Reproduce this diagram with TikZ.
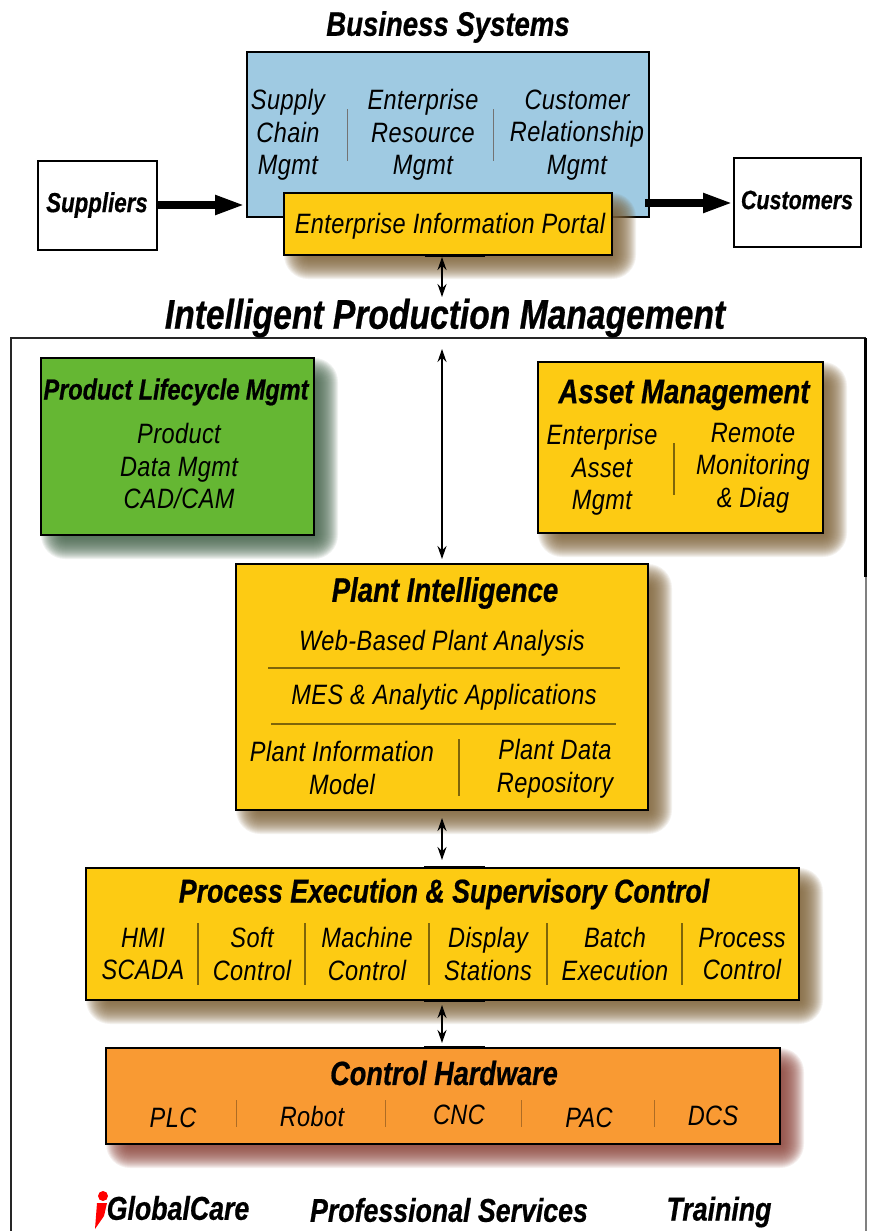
\documentclass[tikz,border=0pt]{standalone}
\usepackage{fontspec}
\usetikzlibrary{arrows.meta,backgrounds}
\newfontfamily\itemfont{Liberation Sans}[UprightFont=* Italic,FakeStretch=0.84,LetterSpace=1.5]
\newfontfamily\headfont{Liberation Sans}[UprightFont=* Bold Italic,FakeStretch=0.81,FakeBold=0.6]
\definecolor{gold}{HTML}{FDCB13}
\definecolor{sky}{HTML}{9FCAE2}
\definecolor{leaf}{HTML}{65B733}
\definecolor{tangerine}{HTML}{F99A33}
\definecolor{goldshade}{HTML}{7E6238}
\definecolor{leafshade}{HTML}{44634A}
\definecolor{orangeshade}{HTML}{8A4238}
\pgfdeclarelayer{shadowlayer}
\pgfdeclarelayer{backlayer}
\pgfsetlayers{backlayer,shadowlayer,main}
\tikzstyle{box}=[shape=rectangle, draw=black, line width=1.6pt, inner sep=0pt, outer sep=0pt]
\tikzstyle{plain}=[box, fill=white, line width=1.4pt]
\tikzstyle{gbox}=[box, fill=gold]
\tikzstyle{lbox}=[box, fill=leaf]
\tikzstyle{obox}=[box, fill=tangerine]
\tikzstyle{item}=[align=center, inner sep=0pt, font=\itemfont\fontsize{28}{32.5}\selectfont]
\tikzstyle{head}=[align=center, inner sep=0pt, font=\headfont\fontsize{34}{38}\selectfont]
\tikzstyle{side}=[head, font=\headfont\fontsize{27.5}{30}\selectfont]
\tikzstyle{foot}=[head, font=\headfont\fontsize{33}{36}\selectfont]
\tikzstyle{sep}=[line width=1pt, black!55]
\tikzstyle{sepgold}=[line width=1.4pt, black!50!gold]
\tikzstyle{seporange}=[line width=1pt, black!30!tangerine]
\tikzstyle{bigarrow}=[line width=7.5pt, -{Triangle[length=30pt, width=18pt]}]
\tikzstyle{thin2way}=[line width=1.4pt, {Stealth[length=13pt, width=9pt]}-{Stealth[length=13pt, width=9pt]}]
\tikzstyle{tab}=[line width=3pt]
% soft shadow behind a box: stacked see-through rectangles
\newcommand{\softshadow}[2]{
  \begin{pgfonlayer}{shadowlayer}
    \foreach \sr in {-12,-11,...,12}
      \fill[#2, fill opacity=0.085, rounded corners=\sr+12]
        ([shift={(12-\sr,12-\sr)}]#1.north west) rectangle ([shift={(12+\sr,12+\sr)}]#1.south east);
  \end{pgfonlayer}
}

\begin{document}
\begin{tikzpicture}[x=1pt, y=-1pt]
\useasboundingbox (0,0) rectangle (869,1231);

% frame
\draw[line width=1.8pt, black!85] (11,1231) -- (11,338) -- (866,338);
\draw[line width=1.5pt, black!50] (866,575) -- (866,1231);
\draw[line width=3pt] (865,338) -- (865,577);

% top row
\node[head] (bstitle) at (448,27) {Business Systems};
\node[plain, minimum width=119pt, minimum height=89pt] (suppliers) at (97.5,205.5) {};
\node[side] (supplierstxt) at (97,205) {Suppliers};
\node[plain, minimum width=127pt, minimum height=89pt] (customers) at (797.5,202.5) {};
\node[side, font=\headfont\fontsize{26.5}{30}\selectfont] (customerstxt) at (797,200) {Customers};
\begin{pgfonlayer}{backlayer}
\node[box, fill=sky, minimum width=402pt, minimum height=165pt] (bs) at (448,134.5) {};
\end{pgfonlayer}
\node[item] (scm) at (288,135) {Supply\\Chain\\Mgmt};
\node[item] (erm) at (423,135) {Enterprise\\Resource\\Mgmt};
\node[item] (crm) at (577,135) {Customer\\Relationship\\Mgmt};
\draw[sep] (347,109) -- (347,161);
\draw[sep] (493,109) -- (493,161);
\node[gbox, minimum width=328pt, minimum height=62pt] (portal) at (448,224) {};
\softshadow{portal}{goldshade}
\node[item] (portaltxt) at (450,226) {Enterprise Information Portal};
\draw[tab] (425,255) -- (485,255);
\path[bigarrow, draw] (suppliers.east |- 0,205) -- (245,205);
\path[bigarrow, draw, shorten <=-4pt] (bs.east |- 0,203) -- (733,203);

% main title
\node[head, font=\headfont\fontsize{41.5}{44}\selectfont] (ipmtitle) at (445,318) {Intelligent Production Management};

% product lifecycle
\node[lbox, minimum width=273pt, minimum height=177pt] (plm) at (177.5,446.5) {};
\softshadow{plm}{leafshade}
\node[head, font=\headfont\fontsize{29}{32}\selectfont] (plmtitle) at (176,392) {Product Lifecycle Mgmt};
\node[item] (plmtxt) at (179,466) {Product\\Data Mgmt\\CAD/CAM};

% asset management
\node[gbox, minimum width=285pt, minimum height=171pt] (am) at (680.5,447.5) {};
\softshadow{am}{goldshade}
\node[head] (amtitle) at (684,395) {Asset Management};
\node[item] (eam) at (602,470) {Enterprise\\Asset\\Mgmt};
\node[item] (rmd) at (753,468) {Remote\\Monitoring\\\& Diag};
\draw[sepgold] (674,443) -- (674,495);

% plant intelligence
\node[gbox, minimum width=412pt, minimum height=246pt] (pi) at (442,687) {};
\softshadow{pi}{goldshade}
\node[head] (pititle) at (445,593) {Plant Intelligence};
\node[item] (pitxt1) at (442,643) {Web-Based Plant Analysis};
\node[item] (pitxt2) at (444,697) {MES \& Analytic Applications};
\node[item] (pitxt3) at (342,768) {Plant Information\\Model};
\node[item] (pitxt4) at (555,769) {Plant Data\\Repository};
\draw[sepgold] (268,668) -- (620,668);
\draw[sepgold] (271,724) -- (616,724);
\draw[sepgold] (459,739) -- (459,796);

% process execution
\node[gbox, minimum width=713pt, minimum height=132pt] (pes) at (442.5,934) {};
\softshadow{pes}{goldshade}
\node[head, font=\headfont\fontsize{33}{36}\selectfont] (pestitle) at (444,894) {Process Execution \& Supervisory Control};
\node[item] (pes1) at (143,954) {HMI\\SCADA};
\node[item] (pes2) at (252,954) {Soft\\Control};
\node[item] (pes3) at (367,954) {Machine\\Control};
\node[item] (pes4) at (488,954) {Display\\Stations};
\node[item] (pes5) at (615,954) {Batch\\Execution};
\node[item] (pes6) at (742,954) {Process\\Control};
\foreach \sx in {198,305,429,547,682}
  \draw[sepgold] (\sx,923) -- (\sx,985);
\draw[tab] (424,867) -- (485,867);
\draw[tab] (424,1000) -- (485,1000);

% control hardware
\node[obox, minimum width=674pt, minimum height=96pt] (ch) at (443,1096) {};
\softshadow{ch}{orangeshade}
\node[head, font=\headfont\fontsize{33.5}{36}\selectfont] (chtitle) at (444,1073) {Control Hardware};
\node[item] (plc) at (173,1118) {PLC};
\node[item] (robot) at (312,1116) {Robot};
\node[item] (cnc) at (459,1115) {CNC};
\node[item] (pac) at (589,1118) {PAC};
\node[item] (dcs) at (713,1116) {DCS};
\foreach \sx in {236,385,521,654}
  \draw[seporange] (\sx,1100) -- (\sx,1127);
\draw[tab] (424,1047) -- (485,1047);

% links
\coordinate (l1a) at (442,257);
\coordinate (l1b) at (442,297);
\coordinate (l2a) at (442,349);
\coordinate (l2b) at (442,559);
\coordinate (l3a) at (442,818);
\coordinate (l3b) at (442,860);
\coordinate (l4a) at (442,1005);
\coordinate (l4b) at (442,1043);
\path[thin2way] (l1a) edge (l1b);
\path[thin2way] (l2a) edge (l2b);
\path[thin2way] (l3a) edge (l3b);
\path[thin2way] (l4a) edge (l4b);

% bottom row
\fill[red] (103,1196) circle (5pt);
\fill[red] (97,1203) -- (107,1203) -- (104,1216) -- (95,1229) -- cycle;
\node[foot] (gc) at (178,1208) {GlobalCare};
\node[foot] (ps) at (449,1210) {Professional Services};
\node[foot] (tr) at (719,1212) {Training};

\end{tikzpicture}
\end{document}
